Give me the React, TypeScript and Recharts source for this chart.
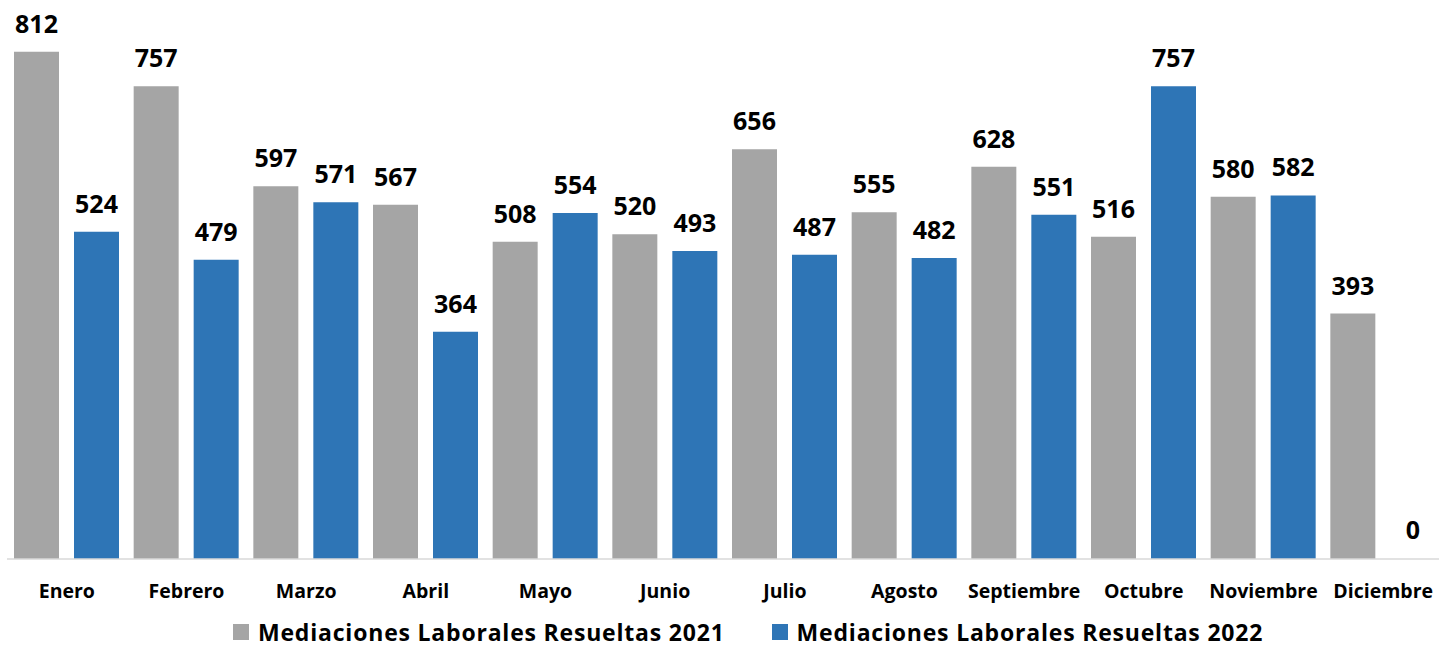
import { BarChart, Bar, XAxis, YAxis, LabelList, Legend, Cell } from 'recharts'

const MONTHS = ['Enero', 'Febrero', 'Marzo', 'Abril', 'Mayo', 'Junio', 'Julio', 'Agosto', 'Septiembre', 'Octubre', 'Noviembre', 'Diciembre']
const RESUELTAS_2021 = [812, 757, 597, 567, 508, 520, 656, 555, 628, 516, 580, 393]
const RESUELTAS_2022 = [524, 479, 571, 364, 554, 493, 487, 482, 551, 757, 582, 0]

const SERIES_2021 = 'Mediaciones Laborales Resueltas 2021'
const SERIES_2022 = 'Mediaciones Laborales Resueltas 2022'

const FONT = '"Open Sans", Lato, sans-serif'

const data = MONTHS.map((mes, i) => ({ mes, r2021: RESUELTAS_2021[i], r2022: RESUELTAS_2022[i] }))

const MonthTick = ({ x, y, payload }: any) => (
  <text x={x} y={y + 31} textAnchor="middle" fontFamily={FONT} fontWeight={700} fontSize={19.5} fill="#000">
    {payload.value}
  </text>
)

// bar tops sit at y; label baseline 19px above
const ValueLabel = ({ x, y, width, height, value }: any) => (
  <text x={x + width / 2} y={Math.min(y, y + height) - 19} textAnchor="middle" fontFamily={FONT} fontWeight={700} fontSize={25} fill="#000">
    {value}
  </text>
)

const LegendBox = () => (
  <div style={{ display: 'flex', alignItems: 'center', paddingLeft: 233, fontFamily: FONT, fontWeight: 700, fontSize: 23, lineHeight: '24px', letterSpacing: 0.8, color: '#000', whiteSpace: 'nowrap' }}>
    {[{ name: SERIES_2021, color: '#A5A5A5' }, { name: SERIES_2022, color: '#2E75B6' }].map((s, i) => (
      <span key={s.name} style={{ display: 'flex', alignItems: 'center', marginLeft: i ? 47 : 0 }}>
        <span style={{ width: 16, height: 16, background: s.color, marginRight: 9, display: 'inline-block' }} />
        {s.name}
      </span>
    ))}
  </div>
)

export default function App() {
  return (
    <div style={{ position: 'fixed', left: 0, top: 0, width: 1439, height: 648, overflow: 'hidden', background: '#fff' }}>
      <BarChart width={1443} height={648} data={data} margin={{ top: 0, right: 0, left: 7, bottom: 59 }} barCategoryGap={7} barGap={15}>
        <XAxis dataKey="mes" height={30} tickLine={false} axisLine={{ stroke: '#D9D9D9', strokeWidth: 1.5 }} tick={<MonthTick />} interval={0} />
        <YAxis hide domain={[0, 895]} />
        <Legend verticalAlign="middle" align="center" content={<LegendBox />} wrapperStyle={{ top: 620, left: 0, width: 1439 }} />
        <Bar dataKey="r2021" name={SERIES_2021} fill="#A5A5A5" isAnimationActive={false}>
          <LabelList dataKey="r2021" content={<ValueLabel />} />
        </Bar>
        <Bar dataKey="r2022" name={SERIES_2022} fill="#2E75B6" minPointSize={1} isAnimationActive={false}>
          {RESUELTAS_2022.map((v, i) => (
            <Cell key={i} fill="#2E75B6" fillOpacity={v === 0 ? 0 : 1} />
          ))}
          <LabelList dataKey="r2022" content={<ValueLabel />} />
        </Bar>
      </BarChart>
    </div>
  )
}
